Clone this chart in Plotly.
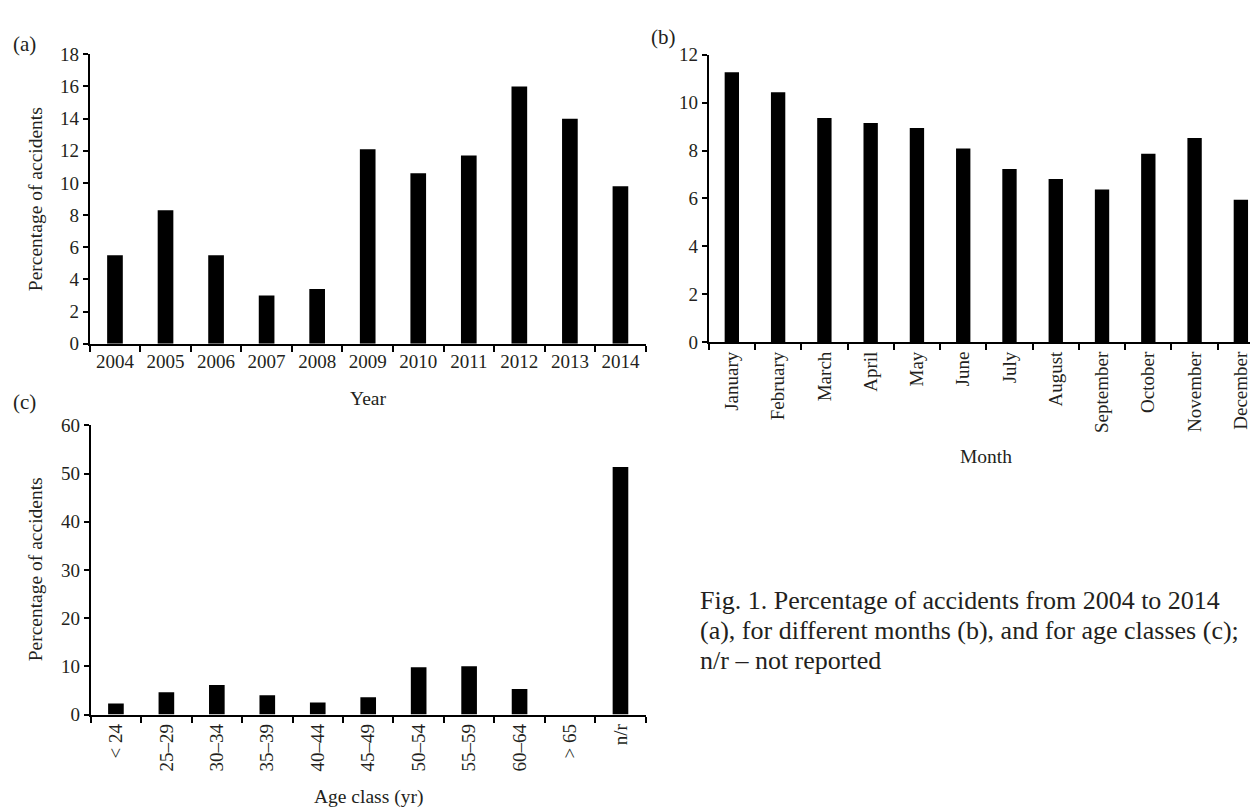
import plotly.graph_objects as go

# ---- data ----
years = ["2004", "2005", "2006", "2007", "2008", "2009", "2010", "2011", "2012", "2013", "2014"]
year_pct = [5.5, 8.3, 5.5, 3.0, 3.4, 12.1, 10.6, 11.7, 16.0, 14.0, 9.8]

months = ["January", "February", "March", "April", "May", "June", "July",
          "August", "September", "October", "November", "December"]
month_pct = [11.27, 10.43, 9.36, 9.15, 8.94, 8.08, 7.23, 6.81, 6.37, 7.87, 8.52, 5.94]

ages = ["< 24", "25\u201329", "30\u201334", "35\u201339", "40\u201344", "45\u201349",
        "50\u201354", "55\u201359", "60\u201364", "> 65", "n/r"]
age_pct = [2.3, 4.6, 6.1, 4.0, 2.5, 3.6, 9.8, 10.0, 5.3, 0.0, 51.4]

caption_lines = ["Fig. 1. Percentage of accidents from 2004 to 2014",
                 "(a), for different months (b), and for age classes (c);",
                 "n/r \u2013 not reported"]

W, H = 1258, 812
FONT = "Liberation Serif, Times New Roman, serif"
TXT = "#231f20"

def px_x(x0, x1):
    return [x0 / W, x1 / W]

def px_y(top, bottom):
    return [1 - bottom / H, 1 - top / H]

fig = go.Figure()
bar_style = dict(marker=dict(color="black", line=dict(width=0)), width=0.31,
                 showlegend=False, hoverinfo="x+y")
fig.add_trace(go.Bar(x=years, y=year_pct, xaxis="x", yaxis="y", **bar_style))
fig.add_trace(go.Bar(x=months, y=month_pct, xaxis="x2", yaxis="y2", **bar_style))
fig.add_trace(go.Bar(x=ages, y=age_pct, xaxis="x3", yaxis="y3", **bar_style))

TICK = 19
xcommon = dict(type="category", showline=True, linecolor="black", linewidth=2,
               ticks="outside", tickson="boundaries", ticklen=6, tickwidth=1.5,
               tickcolor="black", showgrid=False, zeroline=False,
               tickfont=dict(family=FONT, size=TICK, color=TXT), fixedrange=True)
ycommon = dict(showline=True, linecolor="black", linewidth=2, ticks="outside",
               ticklen=5, tickwidth=1.5, tickcolor="black", showgrid=False,
               zeroline=False, tickfont=dict(family=FONT, size=TICK, color=TXT),
               fixedrange=True)

fig.update_layout(
    width=W, height=H, margin=dict(l=0, r=0, t=0, b=0),
    paper_bgcolor="white", plot_bgcolor="white",
    xaxis=dict(xcommon, domain=px_x(81.7, 637.7), anchor="y", range=[-0.5, 10.5]),
    yaxis=dict(ycommon, domain=px_y(37.3, 334.3), anchor="x", range=[0, 18], dtick=2),
    xaxis2=dict(xcommon, domain=px_x(700.7, 1256), anchor="y2", range=[-0.5, 11.5], tickangle=-90),
    yaxis2=dict(ycommon, domain=px_y(37.7, 332.7), anchor="x2", range=[0, 12], dtick=2),
    xaxis3=dict(xcommon, domain=px_x(82.7, 637.7), anchor="y3", range=[-0.5, 10.5], tickangle=-90),
    yaxis3=dict(ycommon, domain=px_y(418.3, 715), anchor="x3", range=[0, 60], dtick=10),
)

def ann(text, x, y, size=19.5, angle=0, xanchor="center", yanchor="middle"):
    fig.add_annotation(text=text, x=x / W, y=1 - y / H,
                       xref="paper", yref="paper", showarrow=False, textangle=angle,
                       xanchor=xanchor, yanchor=yanchor,
                       font=dict(family=FONT, size=size, color=TXT))

# axis titles
ann("Year", 360, 391)
ann("Month", 978, 450)
ann("Age class (yr)", 360, 800)
ann("Percentage of accidents", 27, 186, angle=-90)
ann("Percentage of accidents", 27, 566, angle=-90)

# panel letters
ann("(a)", 16, 27, size=21)
ann("(b)", 655, 20, size=21)
ann("(c)", 16, 394, size=21)

# caption
for i, line in enumerate(caption_lines):
    ann(line, 690, 598 + 31 * i, size=26, xanchor="left")

fig.write_html("out.html")
